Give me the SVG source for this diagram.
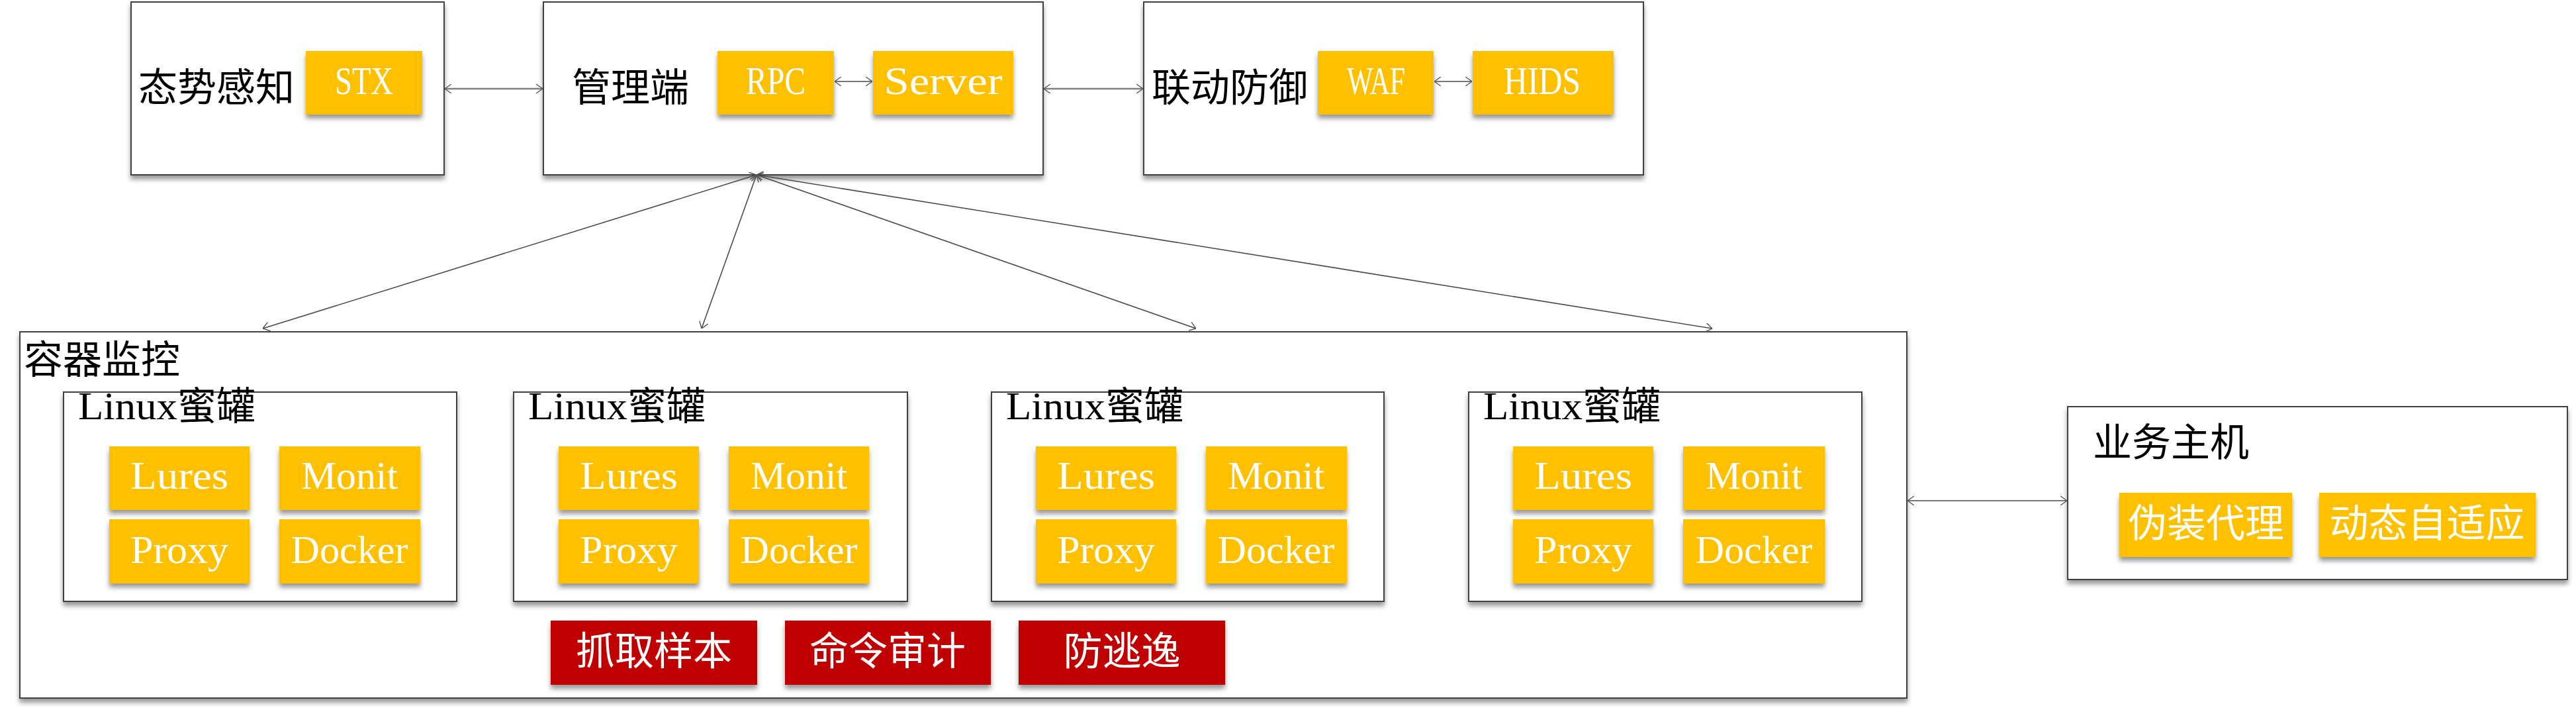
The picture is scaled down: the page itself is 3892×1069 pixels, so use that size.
<svg xmlns="http://www.w3.org/2000/svg" width="3892" height="1069" viewBox="0 0 3892 1069">
<style>
.frame{fill:#fff;stroke:#404040;stroke-width:2;filter:url(#sh)}
.y{fill:#FFC000;filter:url(#sh)}
.r{fill:#C00000;filter:url(#sh)}
.cjk{font-family:"Noto Sans CJK SC","Noto Sans CJK JP",sans-serif;font-size:59px}
.lat{font-family:"Liberation Serif",serif;font-size:60px}
.k{fill:#000}
.w{fill:#fff}
.c{text-anchor:middle}
.ln{fill:none;stroke:#4a4a4a;stroke-width:1.6;marker-start:url(#ah);marker-end:url(#ah)}
.lg{fill:none;stroke:#7f7f7f;stroke-width:2.6;marker-start:url(#ah);marker-end:url(#ah)}
</style>
<defs>
<filter id="sh" x="-10%" y="-10%" width="120%" height="130%">
<feDropShadow dx="0" dy="6" stdDeviation="3.5" flood-color="#000" flood-opacity="0.4"/>
</filter>
<marker id="ah" viewBox="0 0 10 14" refX="10" refY="7" markerWidth="10" markerHeight="14" markerUnits="userSpaceOnUse" orient="auto-start-reverse">
<path d="M0,0 L10,7 L0,14" fill="none" stroke="#555" stroke-width="1.4"/>
</marker>
</defs>
<rect width="3892" height="1069" fill="#fff"/>

<g id="situation">
<rect class="frame" x="198" y="3" width="473" height="261"/>
<text class="cjk k" x="209" y="153">态势感知</text>
<g id="stx"><rect class="y" x="462" y="77" width="176" height="96"/>
<text class="lat w c" x="550" y="142" textLength="88" lengthAdjust="spacingAndGlyphs">STX</text></g>
</g>

<g id="manager">
<rect class="frame" x="821" y="3" width="755" height="261"/>
<text class="cjk k" x="864" y="153">管理端</text>
<g id="rpc"><rect class="y" x="1084" y="77" width="176" height="96"/>
<text class="lat w c" x="1172" y="142" textLength="90" lengthAdjust="spacingAndGlyphs">RPC</text></g>
<g id="server"><rect class="y" x="1319" y="77" width="212" height="96"/>
<text class="lat w c" x="1425" y="142" textLength="179" lengthAdjust="spacingAndGlyphs">Server</text></g>
</g>

<g id="defense">
<rect class="frame" x="1728" y="3" width="755" height="261"/>
<text class="cjk k" x="1740" y="153">联动防御</text>
<g id="waf"><rect class="y" x="1991" y="77" width="175" height="96"/>
<text class="lat w c" x="2079" y="142" textLength="88" lengthAdjust="spacingAndGlyphs">WAF</text></g>
<g id="hids"><rect class="y" x="2225" y="77" width="213" height="96"/>
<text class="lat w c" x="2330" y="142" textLength="116" lengthAdjust="spacingAndGlyphs">HIDS</text></g>
</g>

<g id="container">
<rect class="frame" x="30" y="501" width="2851" height="553"/>
<text class="cjk k" x="36" y="564">容器监控</text>

<g id="honeypot1">
<rect class="frame" x="96" y="592" width="594" height="316"/>
<text class="lat k" x="118" y="633" textLength="150" lengthAdjust="spacingAndGlyphs">Linux</text>
<text class="cjk k" x="268" y="634">蜜罐</text>
<rect class="y" x="165" y="674" width="212" height="96"/>
<text class="lat w c" x="271" y="738" textLength="148" lengthAdjust="spacingAndGlyphs">Lures</text>
<rect class="y" x="422" y="674" width="213" height="96"/>
<text class="lat w c" x="528" y="738" textLength="146" lengthAdjust="spacingAndGlyphs">Monit</text>
<rect class="y" x="165" y="784" width="212" height="97"/>
<text class="lat w c" x="271" y="850" textLength="148" lengthAdjust="spacingAndGlyphs">Proxy</text>
<rect class="y" x="422" y="784" width="213" height="97"/>
<text class="lat w c" x="528" y="850" textLength="177" lengthAdjust="spacingAndGlyphs">Docker</text>
</g>

<g id="honeypot2">
<rect class="frame" x="776" y="592" width="595" height="316"/>
<text class="lat k" x="798" y="633" textLength="150" lengthAdjust="spacingAndGlyphs">Linux</text>
<text class="cjk k" x="948" y="634">蜜罐</text>
<rect class="y" x="844" y="674" width="212" height="96"/>
<text class="lat w c" x="950" y="738" textLength="148" lengthAdjust="spacingAndGlyphs">Lures</text>
<rect class="y" x="1101" y="674" width="212" height="96"/>
<text class="lat w c" x="1207" y="738" textLength="146" lengthAdjust="spacingAndGlyphs">Monit</text>
<rect class="y" x="844" y="784" width="212" height="97"/>
<text class="lat w c" x="950" y="850" textLength="148" lengthAdjust="spacingAndGlyphs">Proxy</text>
<rect class="y" x="1101" y="784" width="212" height="97"/>
<text class="lat w c" x="1207" y="850" textLength="177" lengthAdjust="spacingAndGlyphs">Docker</text>
</g>

<g id="honeypot3">
<rect class="frame" x="1498" y="592" width="593" height="316"/>
<text class="lat k" x="1520" y="633" textLength="150" lengthAdjust="spacingAndGlyphs">Linux</text>
<text class="cjk k" x="1670" y="634">蜜罐</text>
<rect class="y" x="1565" y="674" width="212" height="96"/>
<text class="lat w c" x="1671" y="738" textLength="148" lengthAdjust="spacingAndGlyphs">Lures</text>
<rect class="y" x="1822" y="674" width="213" height="96"/>
<text class="lat w c" x="1928" y="738" textLength="146" lengthAdjust="spacingAndGlyphs">Monit</text>
<rect class="y" x="1565" y="784" width="212" height="97"/>
<text class="lat w c" x="1671" y="850" textLength="148" lengthAdjust="spacingAndGlyphs">Proxy</text>
<rect class="y" x="1822" y="784" width="213" height="97"/>
<text class="lat w c" x="1928" y="850" textLength="177" lengthAdjust="spacingAndGlyphs">Docker</text>
</g>

<g id="honeypot4">
<rect class="frame" x="2219" y="592" width="594" height="316"/>
<text class="lat k" x="2241" y="633" textLength="150" lengthAdjust="spacingAndGlyphs">Linux</text>
<text class="cjk k" x="2391" y="634">蜜罐</text>
<rect class="y" x="2286" y="674" width="212" height="96"/>
<text class="lat w c" x="2392" y="738" textLength="148" lengthAdjust="spacingAndGlyphs">Lures</text>
<rect class="y" x="2543" y="674" width="214" height="96"/>
<text class="lat w c" x="2650" y="738" textLength="146" lengthAdjust="spacingAndGlyphs">Monit</text>
<rect class="y" x="2286" y="784" width="212" height="97"/>
<text class="lat w c" x="2392" y="850" textLength="148" lengthAdjust="spacingAndGlyphs">Proxy</text>
<rect class="y" x="2543" y="784" width="214" height="97"/>
<text class="lat w c" x="2650" y="850" textLength="177" lengthAdjust="spacingAndGlyphs">Docker</text>
</g>

<g id="sample"><rect class="r" x="832" y="937" width="312" height="97"/>
<text class="cjk w c" x="988" y="1004">抓取样本</text></g>
<g id="audit"><rect class="r" x="1186" y="937" width="311" height="97"/>
<text class="cjk w c" x="1341" y="1004">命令审计</text></g>
<g id="escape"><rect class="r" x="1539" y="937" width="312" height="97"/>
<text class="cjk w c" x="1695" y="1004">防逃逸</text></g>
</g>

<g id="host">
<rect class="frame" x="3124" y="614" width="755" height="261"/>
<text class="cjk k" x="3162" y="689">业务主机</text>
<g id="proxy-camo"><rect class="y" x="3202" y="744" width="261" height="97"/>
<text class="cjk w c" x="3333" y="811">伪装代理</text></g>
<g id="adaptive"><rect class="y" x="3504" y="744" width="327" height="97"/>
<text class="cjk w c" x="3667" y="811">动态自适应</text></g>
</g>

<g id="connectors">
<line class="lg" x1="672" y1="134" x2="820" y2="134"/>
<line class="lg" x1="1577" y1="134" x2="1727" y2="134"/>
<line class="ln" x1="1261" y1="123" x2="1318" y2="123"/>
<line class="ln" x1="2167" y1="123" x2="2224" y2="123"/>
<line class="ln" x1="1143" y1="264" x2="397" y2="496"/>
<line class="ln" x1="1143" y1="264" x2="1060" y2="496"/>
<line class="ln" x1="1143" y1="264" x2="1807" y2="496"/>
<line class="ln" x1="1143" y1="264" x2="2587" y2="496"/>
<line class="ln" x1="2882" y1="756" x2="3123" y2="756"/>
</g>
</svg>
